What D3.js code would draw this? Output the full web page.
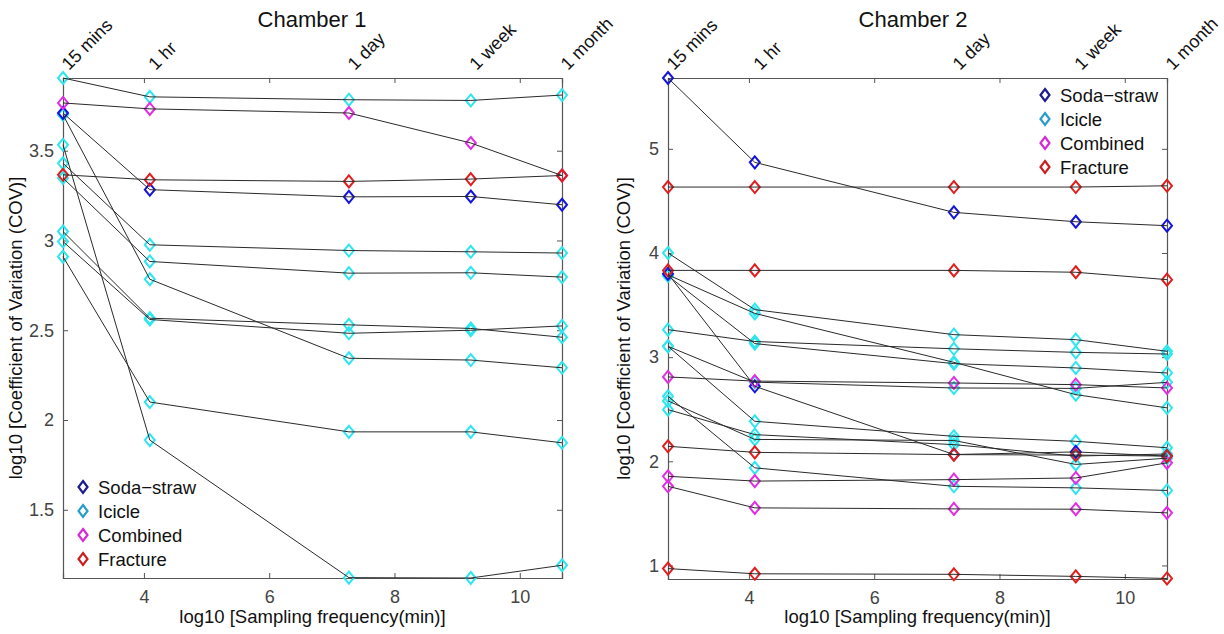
<!DOCTYPE html>
<html><head><meta charset="utf-8">
<script src="https://cdn.jsdelivr.net/npm/d3@7"></script>
<style>
body{margin:0;background:#fff;}
svg{display:block;font-family:"Liberation Sans",Arial,Helvetica,sans-serif;}
</style></head><body>
<svg id="c" width="1224" height="634"></svg>
<script>
// ---- data ----
const timeLabels = ["15 mins", "1 hr", "1 day", "1 week", "1 month"];
const timeX = [2.708, 4.094, 7.272, 9.218, 10.674];
const xTicks = [4, 6, 8, 10];
const typeNames = ["Soda\u2212straw", "Icicle", "Combined", "Fracture"];

const ch1Types = ["Icicle","Combined","Icicle","Icicle","Icicle","Icicle","Icicle","Icicle","Icicle","Soda-straw","Fracture"];
const ch1Values = [
  [3.905, 3.800, 3.784, 3.780, 3.810],
  [3.766, 3.733, 3.710, 3.543, 3.362],
  [3.430, 2.976, 2.944, 2.937, 2.930],
  [3.348, 2.883, 2.818, 2.820, 2.796],
  [3.700, 2.784, 2.344, 2.334, 2.291],
  [3.050, 2.567, 2.530, 2.510, 2.461],
  [2.994, 2.560, 2.483, 2.500, 2.524],
  [2.910, 2.100, 1.934, 1.934, 1.873],
  [3.533, 1.888, 1.122, 1.120, 1.191],
  [3.710, 3.283, 3.243, 3.245, 3.199],
  [3.366, 3.338, 3.329, 3.342, 3.362]
];
const ch1YTicks = [1.5, 2, 2.5, 3, 3.5];

const ch2Types = ["Icicle","Icicle","Icicle","Icicle","Icicle","Icicle","Icicle","Icicle","Icicle",
                  "Soda-straw","Soda-straw","Combined","Combined","Combined","Fracture","Fracture","Fracture","Fracture"];
const ch2Values = [
  [4.000, 3.456, 3.216, 3.168, 3.056],
  [3.790, 3.420, 2.950, 2.640, 2.513],
  [3.264, 3.150, 3.080, 3.046, 3.030],
  [3.780, 3.130, 2.938, 2.896, 2.848],
  [3.104, 2.760, 2.704, 2.700, 2.758],
  [3.104, 2.384, 2.240, 2.192, 2.130],
  [2.624, 1.937, 1.760, 1.745, 1.720],
  [2.496, 2.256, 2.160, 2.050, 2.070],
  [2.580, 2.210, 2.200, 1.970, 2.030],
  [3.800, 2.720, 2.065, 2.090, 2.050],
  [5.680, 4.870, 4.390, 4.300, 4.262],
  [2.810, 2.770, 2.752, 2.736, 2.704],
  [1.856, 1.810, 1.824, 1.840, 1.985],
  [1.760, 1.553, 1.543, 1.540, 1.505],
  [4.633, 4.633, 4.633, 4.633, 4.645],
  [3.833, 3.833, 3.833, 3.815, 3.744],
  [2.144, 2.086, 2.064, 2.060, 2.050],
  [0.970, 0.920, 0.915, 0.895, 0.875]
];
const ch2YTicks = [1, 2, 3, 4, 5];

// ---- styles ----
const markColor = {"Soda-straw":"#1414dc","Icicle":"#2ee6ee","Combined":"#e22ee2","Fracture":"#e01e1e"};
const legColor = {"Soda\u2212straw":"#1c1c8e","Icicle":"#2a9ccc","Combined":"#d42cd4","Fracture":"#cc2020"};
const drawOrder = ["Icicle","Soda-straw","Combined","Fracture"];

const svg = d3.select("#c");

function diamond(g, x, y, hw, hh, color, sw){
  g.append("path")
   .attr("d", `M${x},${y-hh}L${x+hw},${y}L${x},${y+hh}L${x-hw},${y}Z`)
   .attr("fill","none").attr("stroke",color).attr("stroke-width",sw);
}

function panel(cfg){
  const x = d3.scaleLinear().domain([timeX[0], timeX[4]]).range([cfg.x0, cfg.x1]);
  const y = d3.scaleLinear().domain(cfg.ydom).range([cfg.y1, cfg.y0]);
  const g = svg.append("g");
  const axisColor = "#555";
  const tickColor = "#444";

  // bottom axis
  const bx = g.append("g").attr("transform",`translate(0,${cfg.y1})`)
    .call(d3.axisBottom(x).tickValues(xTicks).tickSize(-5).tickPadding(12).tickFormat(d3.format("d")));
  // top axis (ticks only)
  const tx = g.append("g").attr("transform",`translate(0,${cfg.y0})`)
    .call(d3.axisTop(x).tickValues(xTicks).tickSize(-5).tickFormat(""));
  // left axis
  const ly = g.append("g").attr("transform",`translate(${cfg.x0},0)`)
    .call(d3.axisLeft(y).tickValues(cfg.yticks).tickSize(-5).tickPadding(9).tickFormat(d=>String(d)));
  // right axis (ticks only)
  const ry = g.append("g").attr("transform",`translate(${cfg.x1},0)`)
    .call(d3.axisRight(y).tickValues(cfg.yticks).tickSize(-5).tickFormat(""));
  [bx,tx,ly,ry].forEach(a=>{
    a.select(".domain").attr("stroke",axisColor).attr("stroke-width",1.2);
    a.selectAll(".tick line").attr("stroke",axisColor);
    a.selectAll(".tick text").attr("fill",tickColor).attr("font-size",18)
      .attr("font-family","'Liberation Sans',Arial,sans-serif");
  });

  // top rotated time labels
  timeLabels.forEach((t,i)=>{
    g.append("text").attr("transform",`translate(${x(timeX[i])+6},${cfg.y0-7}) rotate(-45)`)
     .attr("font-size",18).attr("fill","#111").text(t);
  });

  // title
  g.append("text").attr("x",cfg.titleX).attr("y",27).attr("text-anchor","middle")
   .attr("font-size",22).attr("fill","#111").text(cfg.title);
  // x label
  g.append("text").attr("x",(cfg.x0+cfg.x1)/2).attr("y",623).attr("text-anchor","middle")
   .attr("font-size",18.5).attr("fill","#111").text("log10 [Sampling frequency(min)]");
  // y label
  g.append("text").attr("transform",`translate(${cfg.ylabX},${(cfg.y0+cfg.y1)/2}) rotate(-90)`)
   .attr("text-anchor","middle").attr("font-size",18.5).attr("fill","#111")
   .text("log10 [Coefficient of Variation (COV)]");

  // markers
  const mg = g.append("g");
  drawOrder.forEach(tp=>{
    cfg.types.forEach((ty,k)=>{
      if(ty!==tp) return;
      cfg.values[k].forEach((v,i)=> diamond(mg, x(timeX[i]), y(v), 5, 6, markColor[ty], 2));
    });
  });
  // lines
  const line = d3.line().x((d,i)=>x(timeX[i])).y(d=>y(d));
  cfg.values.forEach(vals=>{
    g.append("path").attr("d",line(vals)).attr("fill","none")
     .attr("stroke","#2a2a2a").attr("stroke-width",1);
  });

  // legend
  const lg = g.append("g");
  typeNames.forEach((n,i)=>{
    const yy = cfg.legY + i*24;
    diamond(lg, cfg.legX, yy, 4.5, 6, legColor[n], 2.2);
    lg.append("text").attr("x",cfg.legX+15).attr("y",yy+6.5).attr("font-size",18.5)
      .attr("fill","#111").text(n);
  });
}

panel({x0:63, x1:562, y0:78, y1:578, ydom:[1.12,3.905], yticks:ch1YTicks,
       types:ch1Types, values:ch1Values, title:"Chamber 1", titleX:312, ylabX:22,
       legX:83, legY:487});
panel({x0:668, x1:1167, y0:78, y1:579, ydom:[0.87,5.68], yticks:ch2YTicks,
       types:ch2Types, values:ch2Values, title:"Chamber 2", titleX:913, ylabX:630,
       legX:1045, legY:95});
</script></body></html>
